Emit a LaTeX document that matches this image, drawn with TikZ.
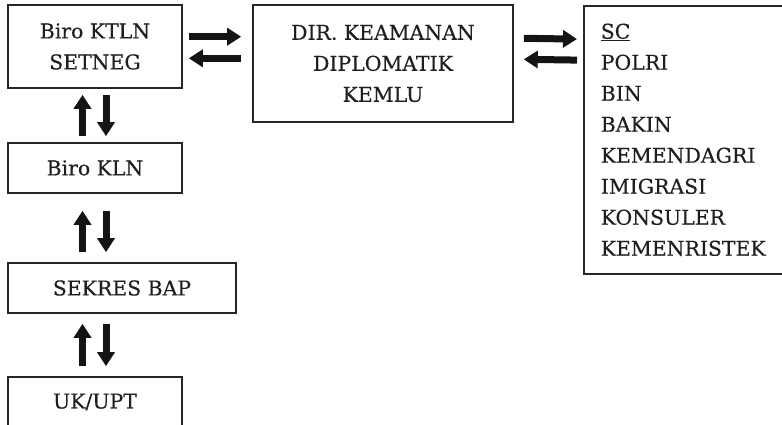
\documentclass[tikz,border=0pt]{standalone}
\usepackage{fontspec}
\setmainfont{DejaVu Serif}[FakeBold=0.35]
\usetikzlibrary{arrows.meta}
\newcommand\bxfont{\fontsize{20.4}{31}\selectfont}
\begin{document}
\begin{tikzpicture}[x=1pt,y=-1pt,
  box/.style={draw=black!85, line width=1.6pt, inner sep=0pt, align=center,
    font=\bxfont, text=black!88},
  bigarrow/.style={line width=7pt, draw=black!92,
    -{Triangle[length=14pt,width=17pt]}},
]
\useasboundingbox (0,0) rectangle (782,425);
\clip (0,0) rectangle (782,425);

\node[box, minimum width=174pt, minimum height=83pt] (b1) at (95,46.5) {Biro KTLN\\SETNEG};
\node[box, minimum width=260pt, minimum height=117pt] (b2) at (383,63.5) {DIR. KEAMANAN\\DIPLOMATIK\\KEMLU};
\node[box, anchor=north west, align=left, text width=183pt, inner xsep=17pt,
  minimum height=268pt] (b3) at (583,5)
  {\underline{SC}\\POLRI\\BIN\\BAKIN\\KEMENDAGRI\\IMIGRASI\\KONSULER\\KEMENRISTEK};
\node[box, minimum width=174pt, minimum height=50pt] (kln) at (95,168) {Biro KLN};
\node[box, minimum width=228pt, minimum height=50pt] (sek) at (122,288) {SEKRES BAP};
\node[box, minimum width=174pt, minimum height=50pt] (uk) at (95,402) {UK/UPT};

% horizontal arrows
\draw[bigarrow] ([xshift=6pt,yshift=9.8pt]b1.east) -- ([xshift=-11pt,yshift=26.8pt]b2.west);
\draw[bigarrow] ([xshift=-11pt,yshift=5.2pt]b2.west) -- ([xshift=6pt,yshift=-11.8pt]b1.east);
\draw[bigarrow] ([xshift=10pt,yshift=25.2pt]b2.east) -- ([xshift=-6pt,yshift=100.7pt]b3.west);
\draw[bigarrow] ([xshift=-6pt,yshift=79.7pt]b3.west) -- ([xshift=10pt,yshift=4.2pt]b2.east);

% vertical arrows
\draw[bigarrow] ([xshift=-12.5pt,yshift=6pt]kln.north) -- ([xshift=-12.5pt,yshift=-6pt]b1.south);
\draw[bigarrow] ([xshift=11pt,yshift=-6pt]b1.south) -- ([xshift=11pt,yshift=6pt]kln.north);

\draw[bigarrow] ([xshift=-39.5pt,yshift=10pt]sek.north) -- ([xshift=-12.5pt,yshift=-17pt]kln.south);
\draw[bigarrow] ([xshift=11pt,yshift=-17pt]kln.south) -- ([xshift=-16pt,yshift=10pt]sek.north);

\draw[bigarrow] ([xshift=-12.5pt,yshift=10pt]uk.north) -- ([xshift=-39.5pt,yshift=-10pt]sek.south);
\draw[bigarrow] ([xshift=-16pt,yshift=-10pt]sek.south) -- ([xshift=11pt,yshift=10pt]uk.north);
\end{tikzpicture}
\end{document}
